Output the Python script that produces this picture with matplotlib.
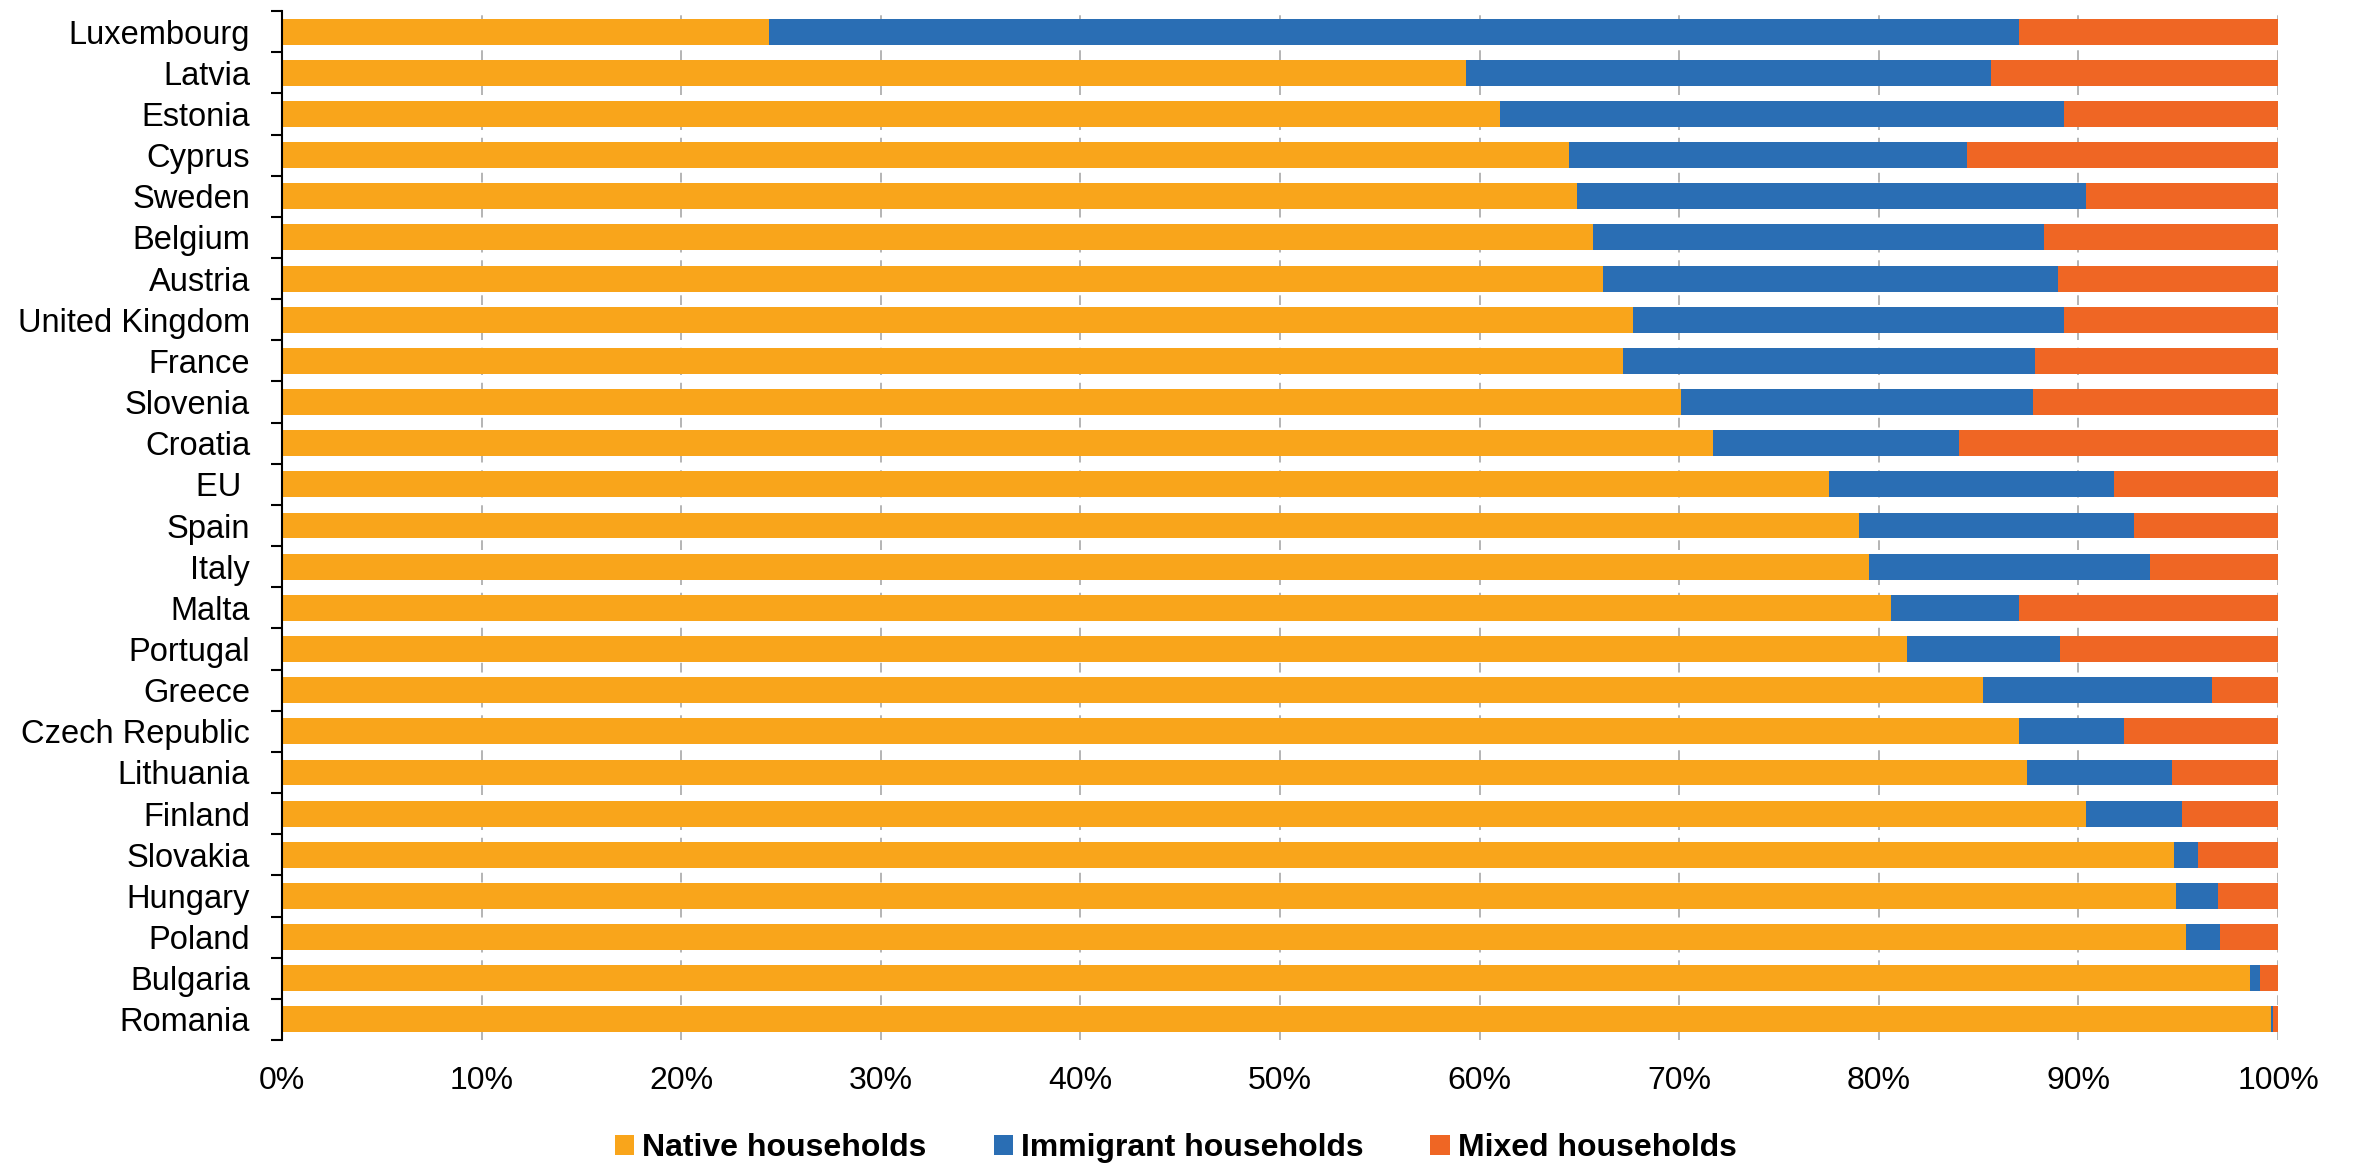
import matplotlib.pyplot as plt
from matplotlib.patches import Patch
import numpy as np

countries = ['Luxembourg', 'Latvia', 'Estonia', 'Cyprus', 'Sweden', 'Belgium',
             'Austria', 'United Kingdom', 'France', 'Slovenia', 'Croatia',
             'EU ', 'Spain', 'Italy', 'Malta', 'Portugal', 'Greece',
             'Czech Republic', 'Lithuania', 'Finland', 'Slovakia', 'Hungary',
             'Poland', 'Bulgaria', 'Romania']

native = [24.4, 59.3, 61.0, 64.5, 64.9, 65.7, 66.2, 67.7, 67.2, 70.1, 71.7,
          77.5, 79.0, 79.5, 80.6, 81.4, 85.2, 87.0, 87.4, 90.4, 94.8, 94.9,
          95.4, 98.6, 99.65]
immigrant = [62.6, 26.3, 28.3, 19.9, 25.5, 22.6, 22.8, 21.6, 20.6, 17.6, 12.3,
             14.3, 13.8, 14.1, 6.4, 7.7, 11.5, 5.3, 7.3, 4.8, 1.2, 2.1,
             1.7, 0.5, 0.1]
mixed = [13.0, 14.4, 10.7, 15.6, 9.6, 11.7, 11.0, 10.7, 12.2, 12.3, 16.0,
         8.2, 7.2, 6.4, 13.0, 10.9, 3.3, 7.7, 5.3, 4.8, 4.0, 3.0,
         2.9, 0.9, 0.25]

series = ['Native households', 'Immigrant households', 'Mixed households']
colors = ['#F9A51B', '#2A6EB4', '#EF6624']

plt.rcParams['font.family'] = ['Liberation Sans', 'DejaVu Sans']

fig = plt.figure(figsize=(23.56, 11.75), dpi=100)
ax = fig.add_axes([0.1197, 0.1149, 0.8472, 0.8757])

y = np.arange(len(countries))
native = np.array(native)
immigrant = np.array(immigrant)
mixed = np.array(mixed)
total = native + immigrant + mixed
left = np.zeros(len(countries))
for vals, col in zip([native, immigrant, mixed], colors):
    # normalise to 100% so the stack ends at the right edge
    share = vals / total * 100
    ax.barh(y, share, left=left, height=0.63, color=col, linewidth=0,
            zorder=2)
    left = left + share

ax.set_xlim(0, 100)
ax.set_ylim(len(countries) - 0.5, -0.5)

ax.set_xticks(np.arange(0, 101, 10))
ax.set_xticklabels(['{}%'.format(v) for v in range(0, 101, 10)], fontsize=23)
ax.tick_params(axis='x', length=0, pad=19)
ax.grid(axis='x', color='#b4b4b4', linestyle=(0, (5, 4)), linewidth=1.4,
        zorder=0)

# category ticks at the boundaries, labels at the centres
ax.set_yticks(np.arange(len(countries) + 1) - 0.5)
ax.set_yticklabels([])
ax.set_yticks(y, minor=True)
ax.set_yticklabels(countries, minor=True, fontsize=23.5)
ax.tick_params(axis='y', which='major', length=8, width=1.5, direction='out')
ax.tick_params(axis='y', which='minor', length=0, pad=23)

for side in ['top', 'right', 'bottom']:
    ax.spines[side].set_visible(False)
ax.spines['left'].set_linewidth(1.5)

handles = [Patch(facecolor=c, edgecolor='none') for c in colors]
fig.legend(handles, series, loc='center', bbox_to_anchor=(0.499, 0.023),
           ncol=3, frameon=False, prop={'weight': 'bold', 'size': 23},
           handlelength=0.6, handleheight=0.6, handletextpad=0.25,
           columnspacing=2.1)

plt.savefig('out.png', dpi=100)
